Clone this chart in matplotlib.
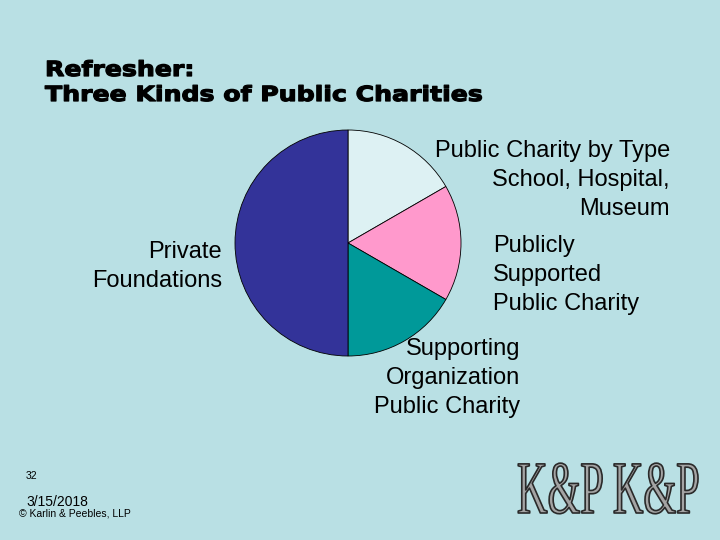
import numpy as np
import matplotlib
matplotlib.use("Agg")
from matplotlib import pyplot as plt
from matplotlib import patheffects as pe
from matplotlib.colors import to_rgb
from matplotlib.transforms import Affine2D

# slices, clockwise from 12 o'clock
shares = [1/6, 1/6, 1/6, 1/2]
colors = ["#ddf1f3", "#ff99cc", "#009999", "#333399"]
labels = [
    ["Public Charity by Type", "School, Hospital,", "Museum"],
    ["Publicly", "Supported", "Public Charity"],
    ["Supporting", "Organization", "Public Charity"],
    ["Private", "Foundations"],
]
title_lines = ["Refresher:", "Three Kinds of Public Charities"]
logo = "K&P K&P"

bg = "#b9e0e4"
plt.rcParams["font.family"] = ["Liberation Sans", "DejaVu Sans"]


class Stretch(pe.AbstractPathEffect):
    """scale text around a display point (x0, y0)"""
    def __init__(self, fx, x0, fy=1.0, y0=0.0, rgb=None, **kwargs):
        super().__init__()
        self.fx, self.x0, self.fy, self.y0, self._gc = fx, x0, fy, y0, kwargs
        self.rgb = to_rgb(rgb) if rgb is not None else None

    def draw_path(self, renderer, gc, tpath, affine, rgbFace=None):
        a = affine + Affine2D().translate(-self.x0, -self.y0).scale(self.fx, self.fy) \
            .translate(self.x0, self.y0)
        gc0 = renderer.new_gc()
        gc0.copy_properties(gc)
        gc0 = self._update_gc(gc0, self._gc)
        renderer.draw_path(gc0, tpath, a, self.rgb if self.rgb is not None else rgbFace)
        gc0.restore()


fig = plt.figure(figsize=(7.2, 5.4), dpi=100, facecolor=bg)

# pie: centre (348,243) px, radius 113 px
cx, cy, r = 348, 243, 113
ax = fig.add_axes([(cx - r) / 720, (540 - cy - r) / 540, 2 * r / 720, 2 * r / 540])
ax.pie(shares, colors=colors, startangle=90, counterclock=False, radius=1,
       wedgeprops=dict(edgecolor="black", linewidth=0.6))
ax.set_xlim(-1, 1)
ax.set_ylim(-1, 1)
ax.set_aspect("equal")
ax.axis("off")

# overlay in pixel coordinates
ov = fig.add_axes([0, 0, 1, 1], facecolor="none")
ov.set_xlim(0, 720)
ov.set_ylim(540, 0)
ov.axis("off")

# title (heavy, wide)
tt = [ov.text(45, 70 + i * 25, t, fontsize=15, fontweight="bold", family="DejaVu Sans",
              ha="left", va="center") for i, t in enumerate(title_lines)]

# labels: anchor x, first-line y, alignment
spots = [(670, 151, "right"), (493, 246, "left"), (520, 349, "right"), (222, 252, "right")]
for lines, (x, y, ha) in zip(labels, spots):
    for i, t in enumerate(lines):
        ov.text(x, y + i * 29, t, fontsize=17, ha=ha, va="center")

# footer
ov.text(26, 476, "32", fontsize=7.5, va="center")
ov.text(26, 502, "3/15/2018", fontsize=10, va="center")
ov.text(19, 514, "\u00a9 Karlin & Peebles, LLP", fontsize=7.5, va="center")

# logo: tall condensed serif
lg_fs = 32
lg = ov.text(608.5, 513, logo, fontsize=lg_fs, family="Liberation Serif",
             ha="center", va="baseline", color="#a4a4a4")

fig.canvas.draw()
rend = fig.canvas.get_renderer()
w = tt[1].get_window_extent(rend).width
fx = (484 - 45) / w
for t in tt:
    t.set_path_effects([Stretch(fx, 45, linewidth=0.9, foreground="black")])
w = lg.get_window_extent(rend).width
fx = (700 - 517) / w
lg.set_path_effects([Stretch(fx, 608.5, fy=54 / lg_fs, y0=540 - 513,
                             linewidth=1.2, foreground="#2a2a2a")])

fig.savefig("out.png", dpi=100, facecolor=bg)
